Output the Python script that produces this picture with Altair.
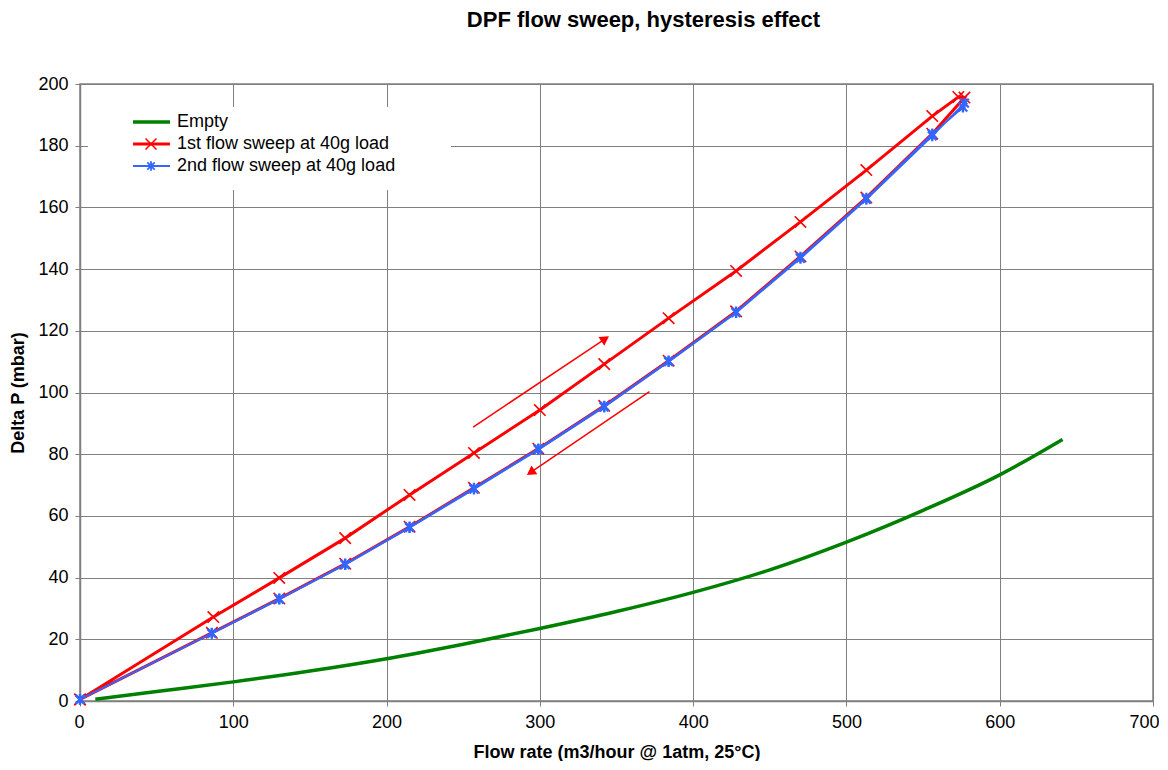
import altair as alt
import pandas as pd

# ---- data ----
flow_empty = [10, 50, 100, 150, 200, 250, 300, 350, 400, 450, 500, 550, 600, 641]
dp_empty = [0.6, 3.1, 6.2, 9.7, 13.7, 18.4, 23.5, 29.0, 35.2, 42.5, 51.5, 61.8, 73.3, 84.8]

flow_sweep1 = [0, 87, 130, 173, 215, 257, 300, 342, 384, 428, 470, 513, 556, 573, 577,
               556, 513, 470, 428, 384, 342, 299, 257, 215, 173, 130, 86, 0]
dp_sweep1 = [0.5, 27.2, 39.9, 52.8, 66.8, 80.4, 94.3, 109.2, 124.1, 139.4, 155.3, 172.1, 189.6, 195.8, 195.6,
             183.9, 163.2, 144.1, 126.3, 110.3, 95.7, 81.8, 69.1, 56.5, 44.5, 33.2, 22.1, 0.5]

flow_sweep2 = [0, 86, 130, 173, 215, 257, 299, 342, 384, 428, 470, 513, 556, 576,
               577, 556, 513, 470, 428, 384, 342, 299, 257, 215, 173, 130, 86, 0]
dp_sweep2 = [0.5, 22.0, 33.1, 44.4, 56.4, 69.0, 81.7, 95.6, 110.2, 126.1, 143.9, 163.0, 183.8, 192.5,
             193.8, 183.2, 162.6, 143.5, 125.9, 110.0, 95.3, 81.5, 68.7, 56.2, 44.2, 33.0, 21.9, 0.5]

series_names = ["Empty", "1st flow sweep at 40g load", "2nd flow sweep at 40g load"]
series_colors = ["#008000", "#ff0000", "#3366ff"]

# annotation arrows (data units): start -> end (head at end)
arrow_x1 = [256.5, 371.5]
arrow_y1 = [88.8, 100.3]
arrow_x2 = [342.6, 294.0]
arrow_y2 = [117.4, 74.1]
arrow_angle = [56, 236]

x_ticks = [0, 100, 200, 300, 400, 500, 600, 700]
y_ticks = [0, 20, 40, 60, 80, 100, 120, 140, 160, 180, 200]

FONT = "Liberation Sans"
cross_path = "M-1,-1L1,1M-1,1L1,-1"
star_path = "M-1,-1L1,1M-1,1L1,-1M0,-1.25L0,1.25"

df_empty = pd.DataFrame({"flow": flow_empty, "dp": dp_empty, "i": range(len(flow_empty))})
df_s1 = pd.DataFrame({"flow": flow_sweep1, "dp": dp_sweep1, "i": range(len(flow_sweep1))})
df_s2 = pd.DataFrame({"flow": flow_sweep2, "dp": dp_sweep2, "i": range(len(flow_sweep2))})
df_arrow = pd.DataFrame({"x1": arrow_x1, "y1": arrow_y1, "x2": arrow_x2, "y2": arrow_y2, "ang": arrow_angle})

X = alt.X("flow:Q", scale=alt.Scale(domain=[0, 700], nice=False),
          axis=alt.Axis(values=x_ticks, title="Flow rate (m3/hour @ 1atm, 25°C)",
                        labelFlush=True, labelFlushOffset=6))
Y = alt.Y("dp:Q", scale=alt.Scale(domain=[0, 200], nice=False),
          axis=alt.Axis(values=y_ticks, title="Delta P (mbar)", labelFlush=False))

empty_line = alt.Chart(df_empty).mark_line(color=series_colors[0], strokeWidth=3.5,
                                            interpolate="monotone").encode(x=X, y=Y, order="i:Q")

s1_line = alt.Chart(df_s1).mark_line(color=series_colors[1], strokeWidth=3).encode(x=X, y=Y, order="i:Q")
s1_pts = alt.Chart(df_s1).mark_point(shape=cross_path, filled=False, size=130, strokeWidth=1.6,
                                     color=series_colors[1], opacity=1).encode(x=X, y=Y)

s2_line = alt.Chart(df_s2).mark_line(color=series_colors[2], strokeWidth=2).encode(x=X, y=Y, order="i:Q")
s2_pts = alt.Chart(df_s2).mark_point(shape=star_path, filled=False, size=75, strokeWidth=2.3,
                                     color=series_colors[2], opacity=1).encode(x=X, y=Y)

arrow_shaft = alt.Chart(df_arrow).mark_rule(color="#ff0000", strokeWidth=1.5).encode(
    x=alt.X("x1:Q"), y=alt.Y("y1:Q"), x2="x2:Q", y2="y2:Q")
arrow_head = alt.Chart(df_arrow).mark_point(shape="triangle-up", filled=True, size=110,
                                            color="#ff0000", opacity=1).encode(
    x=alt.X("x2:Q"), y=alt.Y("y2:Q"), angle=alt.Angle("ang:Q", scale=None))

# ---- legend (layout only) ----
one = pd.DataFrame({"k": [0]})
leg_bg = alt.Chart(one).mark_rect(fill="white", stroke=None).encode(
    x=alt.value(8), x2=alt.value(371), y=alt.value(23), y2=alt.value(106))
leg_rows = [38, 60, 82]
legend_layers = [leg_bg]
for name, col, yy, k in zip(series_names, series_colors, leg_rows, range(3)):
    sw = [3.5, 3, 2][k]
    legend_layers.append(alt.Chart(one).mark_rule(color=col, strokeWidth=sw).encode(
        x=alt.value(53), x2=alt.value(90), y=alt.value(yy)))
    if k == 1:
        legend_layers.append(alt.Chart(one).mark_point(shape=cross_path, filled=False, size=120,
                                                       strokeWidth=1.5, color=col, opacity=1).encode(
            x=alt.value(71), y=alt.value(yy)))
    if k == 2:
        legend_layers.append(alt.Chart(one).mark_point(shape=star_path, filled=False, size=55,
                                                       strokeWidth=1.8, color=col, opacity=1).encode(
            x=alt.value(71), y=alt.value(yy)))
    legend_layers.append(alt.Chart(one).mark_text(align="left", baseline="middle", font=FONT,
                                                  fontSize=18, color="black").encode(
        x=alt.value(97), y=alt.value(yy), text=alt.value(name)))

chart = alt.layer(
    empty_line, s1_line, s1_pts, s2_line, s2_pts, arrow_shaft, arrow_head, *legend_layers
).properties(
    width=1073, height=617,
    title=alt.TitleParams("DPF flow sweep, hysteresis effect", font=FONT, fontSize=22,
                          fontWeight="bold", anchor="middle", offset=43, dx=27, color="black"),
    autosize=alt.AutoSizeParams(type="none"),
    padding={"left": 72, "top": 76, "right": 6, "bottom": 60},
).configure_view(
    stroke="#808080", strokeWidth=1.5
).configure_axis(
    labelFont=FONT, labelFontSize=18, labelColor="black",
    titleFont=FONT, titleFontSize=18, titleFontWeight="bold", titleColor="black",
    gridColor="#808080", gridWidth=1, gridOpacity=1,
    domainColor="#808080", domainWidth=1.5,
    tickColor="#808080", tickSize=5, tickWidth=1,
    labelPadding=7,
).configure_axisX(titlePadding=12).configure_axisY(titlePadding=10)

chart.save("out.html", embed_options={"renderer": "svg", "actions": False})
